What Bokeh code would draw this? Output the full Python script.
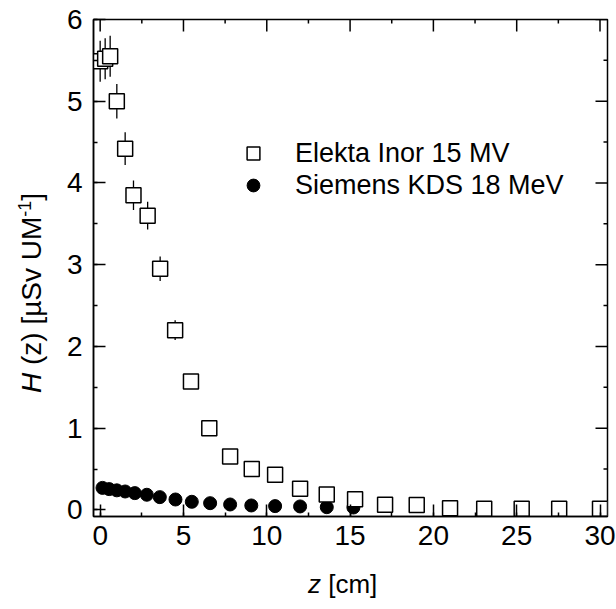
import math
from bokeh.plotting import figure
from bokeh.layouts import row, column
from bokeh.models import (ColumnDataSource, LinearAxis, SingleIntervalTicker, Range1d,
                          Legend, LegendItem, Div)
from bokeh.embed import file_html
from bokeh.resources import INLINE

# ---------------- data ----------------
elekta_z = [0.0, 0.3, 0.6, 1.0, 1.5, 2.0, 2.85, 3.6, 4.5, 5.45, 6.55, 7.8, 9.1, 10.5,
            12.0, 13.6, 15.3, 17.1, 19.0, 21.0, 23.05, 25.3, 27.55, 30.0]
elekta_h = [5.49, 5.52, 5.55, 5.0, 4.42, 3.85, 3.6, 2.95, 2.2, 1.57, 1.0, 0.655, 0.5, 0.43,
            0.26, 0.19, 0.13, 0.065, 0.06, 0.02, 0.015, 0.015, 0.015, 0.015]
elekta_err = [0.25, 0.25, 0.25, 0.21, 0.2, 0.18, 0.17, 0.15, 0.12, 0.08, 0.05, 0.04, 0.035, 0.035,
              0.03, 0.03, 0.03, 0.03, 0.03, 0.03, 0.02, 0.02, 0.02, 0.02]

siemens_z = [0.14, 0.54, 1.0, 1.5, 2.08, 2.8, 3.58, 4.52, 5.5, 6.6, 7.8, 9.07, 10.5, 12.0, 13.6, 15.2]
siemens_h = [0.27, 0.255, 0.24, 0.226, 0.206, 0.186, 0.157, 0.128, 0.10, 0.083, 0.067, 0.055,
             0.047, 0.043, 0.034, 0.03]

legend_labels = ["Elekta Inor 15 MV", "Siemens KDS 18 MeV"]
x_major = [0, 5, 10, 15, 20, 25, 30]
x_minor = [2.5, 7.5, 12.5, 17.5, 22.5, 27.5]
y_major = [0, 1, 2, 3, 4, 5, 6]
y_minor = [0.5, 1.5, 2.5, 3.5, 4.5, 5.5]

# ---------------- layout sizes ----------------
X0, X1 = -0.4, 30.45
Y0, Y1 = -0.08, 6.0
YLAB_W = 50
XLAB_H = 49
W, H = 616 - YLAB_W, 609 - XLAB_H
BL, BR, BT, BB = 93 - YLAB_W, 9, 19, H - 516

FONT = "Liberation Sans"

p = figure(width=W, height=H, output_backend="svg", toolbar_location=None,
           x_range=Range1d(X0, X1), y_range=Range1d(Y0, Y1),
           min_border_left=BL, min_border_right=BR, min_border_top=BT, min_border_bottom=BB,
           x_axis_location=None, y_axis_location=None)
p.grid.visible = False
p.outline_line_color = "black"
p.outline_line_width = 1.5
p.background_fill_color = "white"
p.border_fill_color = "white"

def make_axis(interval):
    ax = LinearAxis(ticker=SingleIntervalTicker(interval=interval, num_minor_ticks=2))
    ax.axis_line_width = 1.5
    ax.major_tick_line_width = 1.5
    ax.minor_tick_line_width = 1.5
    ax.major_tick_in = 12
    ax.major_tick_out = 0
    ax.minor_tick_in = 4
    ax.minor_tick_out = 0
    ax.major_label_text_font = FONT
    ax.major_label_text_font_size = "28px"
    ax.major_label_text_color = "black"
    return ax

xb = make_axis(5)
xb.major_label_standoff = 9
yl = make_axis(1)
yl.major_label_standoff = 11
p.add_layout(xb, "below")
p.add_layout(yl, "left")

# mirrored inward ticks on top and right (dash markers, half clipped by the frame)
p.scatter(x_major, [Y1] * len(x_major), marker="dash", angle=math.pi / 2, size=24,
          line_color="black", line_width=1.5)
p.scatter(x_minor, [Y1] * len(x_minor), marker="dash", angle=math.pi / 2, size=8,
          line_color="black", line_width=1.5)
p.scatter([X1] * len(y_major), y_major, marker="dash", size=24,
          line_color="black", line_width=1.5)
p.scatter([X1] * len(y_minor), y_minor, marker="dash", size=8,
          line_color="black", line_width=1.5)

# ---------------- data glyphs ----------------
src_e = ColumnDataSource(dict(z=elekta_z, h=elekta_h, err=elekta_err))
src_e.data["lo"] = [h - e for h, e in zip(elekta_h, elekta_err)]
src_e.data["hi"] = [h + e for h, e in zip(elekta_h, elekta_err)]
src_s = ColumnDataSource(dict(z=siemens_z, h=siemens_h))

ci = p.scatter("z", "h", source=src_s, marker="circle", size=13,
               fill_color="black", line_color="black")
p.segment(x0="z", y0="lo", x1="z", y1="hi", source=src_e, line_color="black", line_width=1.3)
sq = p.scatter("z", "h", source=src_e, marker="square", size=15,
               fill_color="white", line_color="black", line_width=1.5)

legend = Legend(items=[LegendItem(label=legend_labels[0], renderers=[sq]),
                       LegendItem(label=legend_labels[1], renderers=[ci])],
                location=(144, 315), glyph_width=32, glyph_height=32, label_standoff=26,
                padding=0, margin=0, spacing=0, border_line_alpha=0, background_fill_alpha=0,
                label_text_font=FONT, label_text_font_size="27px", label_text_color="black",
                label_height=32)
p.add_layout(legend, "center")

# ---------------- axis labels (mixed italic) as HTML ----------------
ylab_html = (
    '<div style="width:0;height:0;margin-left:18px;margin-top:393px;">'
    '<div style="transform:rotate(-90deg);transform-origin:0 0;white-space:nowrap;'
    f"font-family:'{FONT}';font-size:28px;line-height:28px;color:black;display:inline-block;\">"
    '<i>H</i> (z) [µSv UM<sup style="font-size:18px;line-height:0;">-1</sup>]'
    '</div></div>'
)
ydiv = Div(text=ylab_html, width=YLAB_W, height=609, margin=0)

xlab_html = (
    f"<div style=\"margin-left:{308 - YLAB_W}px;margin-top:11px;white-space:nowrap;"
    f"font-family:'{FONT}';font-size:26px;line-height:26px;color:black;\">"
    '<i>z</i> [cm]</div>'
)
xdiv = Div(text=xlab_html, width=W, height=XLAB_H, margin=0)

layout = row(ydiv, column(p, xdiv, spacing=0), spacing=0)

open("out.html", "w").write(file_html(layout, INLINE))
